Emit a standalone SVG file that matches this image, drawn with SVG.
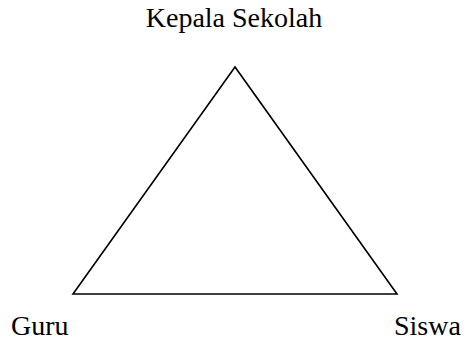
<svg xmlns="http://www.w3.org/2000/svg" width="466" height="343" viewBox="0 0 466 343">
<style>
.lbl{font-family:"Liberation Serif","Times New Roman",serif;font-size:28px;fill:#000}
.edge{fill:none;stroke:#000;stroke-width:1.6;stroke-linejoin:miter}
</style>
<rect width="466" height="343" fill="#fff"/>
<g id="connectors">
<polygon class="edge" points="235,67 73,294 397,294"/>
</g>
<g id="node-kepala"><text class="lbl" x="234" y="27" text-anchor="middle">Kepala Sekolah</text></g>
<g id="node-guru"><text class="lbl" x="11" y="335">Guru</text></g>
<g id="node-siswa"><text class="lbl" x="394" y="335">Siswa</text></g>
</svg>
